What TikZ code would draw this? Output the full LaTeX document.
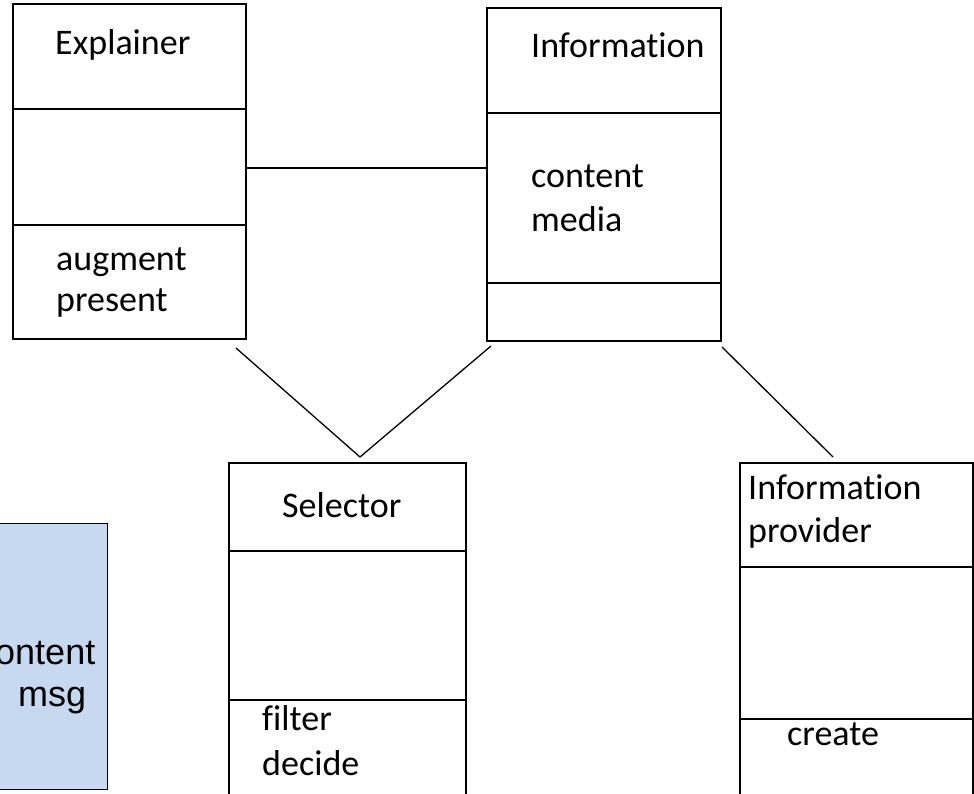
\documentclass[tikz,border=0pt]{standalone}
\usepackage{fontspec}
\setmainfont{Carlito}[Ligatures={NoCommon}]
\newfontfamily\arialfont{Liberation Sans}
\usetikzlibrary{calc}
\definecolor{noteblue}{HTML}{C6D9F1}
\begin{document}
\begin{tikzpicture}[x=1pt,y=-1pt,
  umlbox/.style={draw=black, line width=1.3pt, anchor=north west, inner sep=0pt, outer sep=0pt},
  divider/.style={line width=1.3pt},
  link/.style={line width=1.3pt},
  lbl/.style={anchor=base west, inner sep=0pt, font=\fontsize{36}{43}\selectfont},
  note/.style={anchor=base west, inner sep=0pt, font=\arialfont\fontsize{36}{44}\selectfont}]
\useasboundingbox (0,0) rectangle (974,794);
\clip (0,0) rectangle (974,794);

% class boxes
\node[umlbox, minimum width=233pt, minimum height=335pt] (expl) at (13,4) {};
\node[umlbox, minimum width=234pt, minimum height=333pt] (info) at (487,8) {};
\node[umlbox, minimum width=237pt, minimum height=350pt] (sel) at (229,463) {};
\node[umlbox, minimum width=233pt, minimum height=350pt] (prov) at (740,463) {};

% compartment dividers
\draw[divider] ($(expl.north west)+(0,105)$) -- ($(expl.north east)+(0,105)$);
\draw[divider] ($(expl.north west)+(0,221)$) -- ($(expl.north east)+(0,221)$);
\draw[divider] ($(info.north west)+(0,105)$) -- ($(info.north east)+(0,105)$);
\draw[divider] ($(info.north west)+(0,275)$) -- ($(info.north east)+(0,275)$);
\draw[divider] ($(sel.north west)+(0,88)$) -- ($(sel.north east)+(0,88)$);
\draw[divider] ($(sel.north west)+(0,237)$) -- ($(sel.north east)+(0,237)$);
\draw[divider] ($(prov.north west)+(0,104)$) -- ($(prov.north east)+(0,104)$);
\draw[divider] ($(prov.north west)+(0,256)$) -- ($(prov.north east)+(0,256)$);

% note box
\node[draw=black, fill=noteblue, line width=1.3pt, anchor=north west, inner sep=0pt,
      minimum width=112pt, minimum height=266pt] (msgbox) at (-5,523) {};

% labels
\node[lbl] (tExpl) at (55,55) {Explainer};
\node[lbl] (tAug) at (56,270) {augment};
\node[lbl] (tPres) at (56,312) {present};
\node[lbl] (tInfo) at (531,58) {Information};
\node[lbl] (tCont) at (531,188) {content};
\node[lbl] (tMedia) at (531,232) {media};
\node[lbl] (tSel) at (282,517) {Selector};
\node[lbl] (tFilt) at (262,730) {filter};
\node[lbl] (tDec) at (262,775) {decide};
\node[lbl] (tProvA) at (748,499) {Information};
\node[lbl] (tProvB) at (748,542) {provider};
\node[lbl] (tCreate) at (787,745) {create};
\node[note] (nCont) at (-23,664) {content};
\node[note] (nMsg) at (18,706) {msg};

% associations
\coordinate (assoc) at (0,168);
\draw[link] (expl.east |- assoc) -- (info.west |- assoc);
\coordinate (join) at (360,457);
\draw[link] ($(expl.south east)+(-10,9)$) -- (join) -- ($(info.south west)+(4,5)$);
\draw[link] ($(info.south east)+(1,6)$) -- ($(prov.north west)+(93,-6)$);
\end{tikzpicture}
\end{document}
